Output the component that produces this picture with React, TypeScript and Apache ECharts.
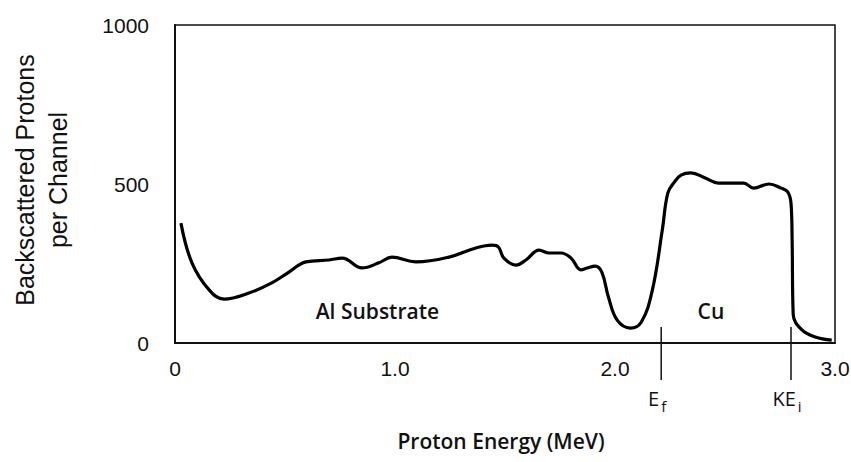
import React, { useEffect, useRef } from "react";
import * as echarts from "echarts";

const energy = [0.027, 0.077, 0.155, 0.223, 0.336, 0.44, 0.518, 0.595, 0.70, 0.76, 0.85, 0.927, 0.986, 1.095, 1.245, 1.368, 1.44, 1.47, 1.495, 1.55, 1.595, 1.655, 1.70, 1.755, 1.80, 1.845, 1.873, 1.91, 1.94, 1.97, 2.01, 2.07, 2.12, 2.17, 2.215, 2.24, 2.27, 2.30, 2.345, 2.41, 2.47, 2.53, 2.585, 2.63, 2.70, 2.755, 2.785, 2.80, 2.805, 2.81, 2.85, 2.91, 2.985];
const counts = [377, 252, 167, 138, 157, 189, 223, 255, 261, 267, 236, 252, 270, 255, 270, 299, 308, 302, 267, 245, 261, 292, 283, 283, 267, 230, 236, 242, 223, 145, 72, 47, 66, 167, 355, 471, 506, 528, 535, 519, 503, 503, 503, 487, 500, 487, 475, 440, 330, 90, 41, 19, 9];
const xTicks = [0, 1, 2, 3];
const xTickLabels = ["0", "1.0", "2.0", "3.0"];
const yTicks = [0, 500, 1000];
const yTickLabels = ["0", "500", "1000"];
const xTitle = "Proton Energy (MeV)";
const yTitleLines = ["Backscattered Protons", "per Channel"];
const regionLabels = [
  { x: 0.92, y: 100, text: "Al Substrate" },
  { x: 2.436, y: 100, text: "Cu" },
];
const markers = [
  { x: 2.21, main: "E", sub: "f" },
  { x: 2.80, main: "KE", sub: "i" },
];

const FONT = "'Liberation Sans', Arial, sans-serif";
const OPEN = "'Open Sans', sans-serif";

export default function App() {
  const ref = useRef<HTMLDivElement>(null);
  useEffect(() => {
    if (!ref.current) return;
    const chart = echarts.init(ref.current, null, { renderer: "svg" });
    const data = energy.map((e, i) => [e, counts[i]]);
    chart.setOption({
      animation: false,
      grid: {
        left: 175,
        top: 25,
        right: 16,
        bottom: 119,
        outerBoundsMode: "none",
        containLabel: false,
        show: true,
        borderColor: "#111",
        borderWidth: 1.5,
        backgroundColor: "transparent",
      },
      xAxis: {
        type: "value",
        min: 0,
        max: 3,
        interval: 1,
        axisLine: { show: true, lineStyle: { color: "#111", width: 2 } },
        axisTick: { show: false },
        splitLine: { show: false },
        axisLabel: {
          margin: 15,
          color: "#111",
          fontSize: 21,
          fontFamily: FONT,
          formatter: (v: number) => xTickLabels[xTicks.indexOf(v)] ?? "",
        },
      },
      yAxis: {
        type: "value",
        min: 0,
        max: 1000,
        interval: 500,
        axisLine: { show: true, lineStyle: { color: "#111", width: 2 } },
        axisTick: { show: false },
        splitLine: { show: false },
        axisLabel: {
          margin: 26,
          color: "#111",
          fontSize: 21,
          fontFamily: FONT,
          formatter: (v: number) => yTickLabels[yTicks.indexOf(v)] ?? "",
        },
      },
      series: [
        {
          type: "line",
          data,
          smooth: 0.4,
          symbol: "none",
          lineStyle: { color: "#000", width: 3.2 },
          z: 5,
        },
      ],
    });

    const graphics: any[] = [];
    graphics.push({
      type: "text",
      x: 501,
      y: 441,
      style: {
        text: xTitle,
        fill: "#111",
        font: `600 21px 'Open Sans', sans-serif`,
        textAlign: "center",
        textVerticalAlign: "middle",
      },
    });
    yTitleLines.forEach((t, i) => {
      graphics.push({
        type: "text",
        x: 25 + i * 33,
        y: 180,
        rotation: Math.PI / 2,
        style: {
          text: t,
          fill: "#111",
          font: `25px 'Liberation Sans', Arial, sans-serif`,
          textAlign: "center",
          textVerticalAlign: "middle",
        },
      });
    });
    regionLabels.forEach((r) => {
      const [px, py] = chart.convertToPixel({ gridIndex: 0 }, [r.x, r.y]);
      graphics.push({
        type: "text",
        x: px,
        y: py,
        style: {
          text: r.text,
          fill: "#111",
          font: `600 21px 'Open Sans', sans-serif`,
          textAlign: "center",
          textVerticalAlign: "middle",
        },
      });
    });
    markers.forEach((m) => {
      const [px, py] = chart.convertToPixel({ gridIndex: 0 }, [m.x, 0]);
      graphics.push({
        type: "line",
        shape: { x1: px, y1: py - 16, x2: px, y2: py + 37 },
        style: { stroke: "#111", lineWidth: 1.5 },
      });
      graphics.push({
        type: "text",
        x: px - 4,
        y: py + 55,
        style: {
          text: `{m|${m.main}}{s|${m.sub}}`,
          textAlign: "center",
          textVerticalAlign: "middle",
          rich: {
            m: { fontSize: 20, fontWeight: 500, fontFamily: OPEN, fill: "#111", padding: [0, 2, 0, 0] },
            s: { fontSize: 15, fontWeight: 500, fontFamily: OPEN, fill: "#111", padding: [16, 0, 0, 0] },
          },
        },
      });
    });
    chart.setOption({ graphic: graphics });

    return () => chart.dispose();
  }, []);
  return <div ref={ref} style={{ width: 851, height: 462, position: "absolute", left: 0, top: 0, background: "#fff" }} />;
}
